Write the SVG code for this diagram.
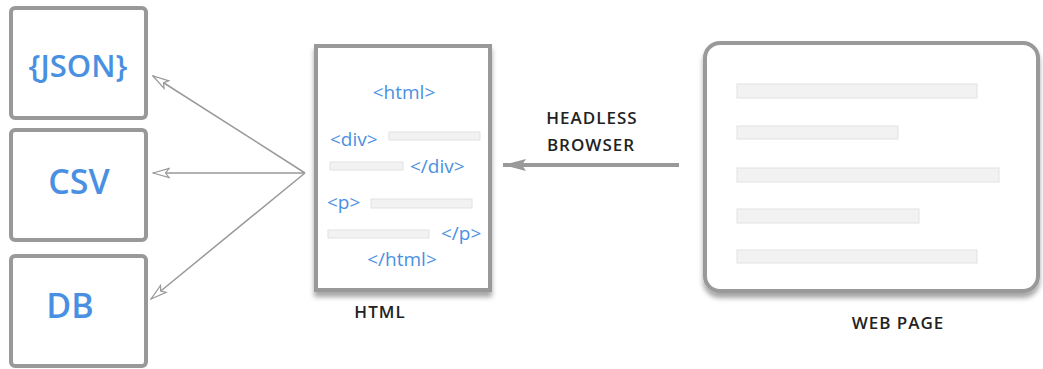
<svg xmlns="http://www.w3.org/2000/svg" width="1043" height="369" viewBox="0 0 1043 369">
<defs>
<marker id="open" markerWidth="18" markerHeight="12" refX="17" refY="6" orient="auto" markerUnits="userSpaceOnUse">
<path d="M17,6 L1,1.5 L4.5,6 L1,10.5 Z" fill="#fff" stroke="#999" stroke-width="1.2"/>
</marker>
<marker id="solid" markerWidth="26" markerHeight="16" refX="25" refY="8" orient="auto" markerUnits="userSpaceOnUse">
<path d="M25,8 L2,2 L6,8 L2,14 Z" fill="#999"/>
</marker>
<filter id="sh" x="-10%" y="-10%" width="120%" height="125%">
<feDropShadow dx="0" dy="5" stdDeviation="2.5" flood-color="#000" flood-opacity="0.35"/>
</filter>
<style>
.box{fill:#fff;stroke:#999;stroke-width:4}
.lbl{font-family:"Open Sans",Lato,sans-serif;font-weight:600;fill:#4a90e2;text-anchor:middle}
.tag{font-family:"Open Sans",Lato,sans-serif;font-size:19px;fill:#4a90e2}
.bar{fill:#f2f2f2;stroke:#e2e2e2;stroke-width:1}
.cap{font-family:"Open Sans",Lato,sans-serif;font-weight:600;font-size:17px;fill:#222;text-anchor:middle;letter-spacing:1px}
.con{stroke:#999;fill:none}
</style>
</defs>
<rect width="1043" height="369" fill="#fff"/>

<g id="json">
<rect class="box" x="11" y="8" width="135" height="110" rx="4"/>
<text class="lbl" x="78" y="77" font-size="31">{JSON}</text>
</g>
<g id="csv">
<rect class="box" x="11" y="130" width="135" height="110" rx="4"/>
<text class="lbl" x="79" y="194" font-size="34">CSV</text>
</g>
<g id="db">
<rect class="box" x="11" y="256" width="135" height="110" rx="4"/>
<text class="lbl" x="70" y="318" font-size="34">DB</text>
</g>

<g id="html">
<rect class="box" x="316" y="46" width="174" height="244" stroke-width="5" filter="url(#sh)"/>
<text class="tag" x="404" y="99" text-anchor="middle">&lt;html&gt;</text>
<text class="tag" x="330" y="146">&lt;div&gt;</text>
<rect class="bar" x="389" y="132" width="91" height="8"/>
<rect class="bar" x="330" y="162" width="73" height="8"/>
<text class="tag" x="410" y="173">&lt;/div&gt;</text>
<text class="tag" x="327" y="209">&lt;p&gt;</text>
<rect class="bar" x="371" y="199" width="101" height="9"/>
<rect class="bar" x="328" y="230" width="101" height="8"/>
<text class="tag" x="441" y="240">&lt;/p&gt;</text>
<text class="tag" x="402" y="266" text-anchor="middle">&lt;/html&gt;</text>
<text class="cap" x="380" y="318">HTML</text>
</g>

<g id="webpage">
<rect class="box" x="705" y="43" width="333" height="248" rx="15" filter="url(#sh)"/>
<rect class="bar" x="737" y="84" width="240" height="14"/>
<rect class="bar" x="737" y="126" width="161" height="13"/>
<rect class="bar" x="737" y="168" width="262" height="14"/>
<rect class="bar" x="737" y="209" width="182" height="14"/>
<rect class="bar" x="737" y="250" width="240" height="13"/>
<text class="cap" x="898" y="329">WEB PAGE</text>
</g>

<g id="browser-label">
<text class="cap" x="592" y="124" font-size="18">HEADLESS</text>
<text class="cap" x="591" y="151" font-size="18">BROWSER</text>
</g>

<g id="connectors">
<line class="con" x1="305" y1="173" x2="153" y2="76" stroke-width="1.5" marker-end="url(#open)"/>
<line class="con" x1="305" y1="173" x2="153" y2="173" stroke-width="1.5" marker-end="url(#open)"/>
<line class="con" x1="305" y1="173" x2="151" y2="299" stroke-width="1.5" marker-end="url(#open)"/>
<line class="con" x1="679" y1="165" x2="503" y2="165" stroke-width="4" marker-end="url(#solid)"/>
</g>
</svg>
